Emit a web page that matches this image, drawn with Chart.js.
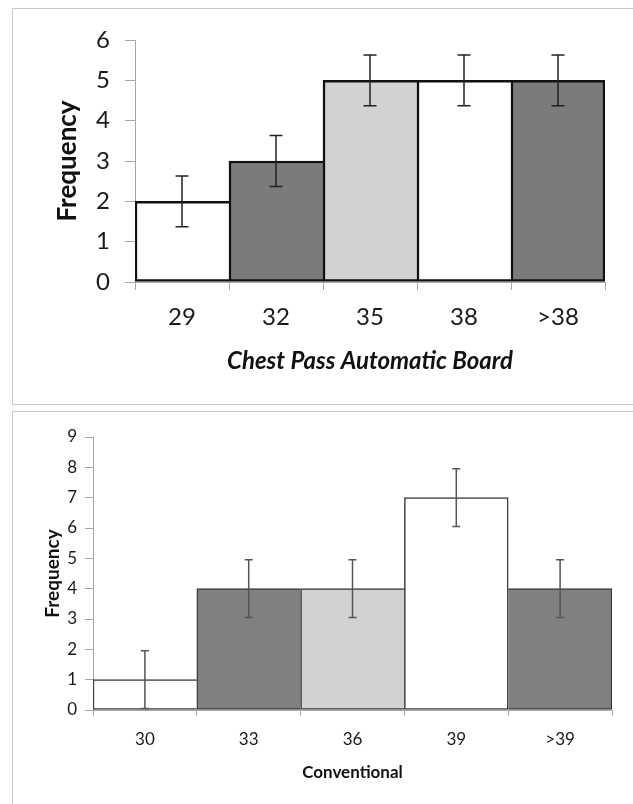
<!DOCTYPE html>
<html>
<head>
<meta charset="utf-8">
<script src="https://cdn.jsdelivr.net/npm/chart.js@4.4.1/dist/chart.umd.min.js"></script>
<style>
  html, body { margin: 0; padding: 0; background: #ffffff; }
  body { width: 633px; height: 804px; position: relative; overflow: hidden; font-family: Lato, sans-serif; }
  .panel { position: absolute; border: 1.5px solid #c9c9c9; background: #fff; box-sizing: border-box; }
  #p1 { left: 12px; top: 8px; width: 640px; height: 397px; }
  #p2 { left: 12px; top: 411px; width: 640px; height: 400px; }
  .wrap { position: absolute; }
  #w1 { left: 12px; top: 8px; width: 621px; height: 397px; }
  #w2 { left: 12px; top: 413px; width: 621px; height: 391px; }
</style>
</head>
<body>
<div class="panel" id="p1"></div>
<div class="panel" id="p2"></div>
<div class="wrap" id="w1"><canvas id="c1"></canvas></div>
<div class="wrap" id="w2"><canvas id="c2"></canvas></div>
<script>
// ---- Data: top chart (Chest Pass Automatic Board) ----
const topCategories = ['29', '32', '35', '38', '>38'];
const topValues = [2, 3, 5, 5, 5];
const topErrors = [0.63, 0.63, 0.63, 0.63, 0.63];
const topYTicks = [0, 1, 2, 3, 4, 5, 6];
const topXTitle = 'Chest Pass Automatic Board';

// ---- Data: bottom chart (Conventional) ----
const botCategories = ['30', '33', '36', '39', '>39'];
const botValues = [1, 4, 4, 7, 4];
const botErrors = [0.95, 0.95, 0.95, 0.95, 0.95];
const botYTicks = [0, 1, 2, 3, 4, 5, 6, 7, 8, 9];
const botXTitle = 'Conventional';

const yTitle = 'Frequency';

const topColors = ['#ffffff', '#7b7b7b', '#d3d1d1', '#ffffff', '#7b7b7b'];
const botColors = ['#ffffff', '#808080', '#d3d1d1', '#ffffff', '#808080'];

const errorBarPlugin = {
  id: 'errorBars',
  afterDatasetsDraw(chart, args, opts) {
    const ctx = chart.ctx;
    const meta = chart.getDatasetMeta(0);
    const ys = chart.scales.y;
    const vals = chart.data.datasets[0].data;
    ctx.save();
    ctx.strokeStyle = opts.color;
    ctx.lineWidth = opts.width;
    meta.data.forEach((bar, i) => {
      const v = vals[i], e = opts.errors[i];
      const x = bar.x;
      const yt = ys.getPixelForValue(v + e);
      const yb = ys.getPixelForValue(v - e);
      const c = opts.cap / 2;
      ctx.beginPath();
      ctx.moveTo(x, yt); ctx.lineTo(x, yb);
      ctx.moveTo(x - c, yt); ctx.lineTo(x + c, yt);
      ctx.moveTo(x - c, yb); ctx.lineTo(x + c, yb);
      ctx.stroke();
    });
    ctx.restore();
  }
};

function makeChart(id, cfg) {
  const n = cfg.categories.length;
  const bw = cfg.borderWidth;
  const vals = cfg.values;
  return new Chart(document.getElementById(id), {
    type: 'bar',
    data: {
      labels: cfg.categories,
      datasets: [{
        data: vals,
        backgroundColor: cfg.colors,
        borderColor: cfg.borderColor,
        borderSkipped: false,
        borderWidth: (c) => {
          const i = c.dataIndex;
          const left = (i === 0 || vals[i - 1] <= vals[i]) ? bw : 0;
          const right = (i === n - 1 || vals[i + 1] < vals[i]) ? bw : 0;
          return { top: bw, left: left, bottom: bw, right: right };
        },
        categoryPercentage: 1.0,
        barPercentage: 1.0
      }]
    },
    options: {
      responsive: true,
      maintainAspectRatio: false,
      animation: false,
      events: [],
      layout: { padding: { left: 0, top: cfg.area.top, right: cfg.W - cfg.area.right, bottom: 0 } },
      plugins: {
        legend: { display: false },
        tooltip: { enabled: false },
        errorBars: { errors: cfg.errors, color: cfg.errColor, width: cfg.errWidth, cap: cfg.cap }
      },
      scales: {
        x: {
          offset: true,
          grid: { display: true, drawOnChartArea: false, offset: true, color: '#a6a6a6', tickLength: cfg.xTickLen, lineWidth: 1 },
          border: { display: true, color: '#a6a6a6', width: 1 },
          ticks: { color: '#1a1a1a', font: { family: 'Lato', size: cfg.tickSize }, padding: cfg.xTickPad, maxRotation: 0 },
          title: { display: true, text: cfg.xTitle, color: '#111', font: { family: 'Lato', size: cfg.xTitleSize, weight: 'bold', style: cfg.xTitleStyle }, padding: { top: 0, bottom: cfg.xTitlePad } },
          afterFit: (s) => { s.height = cfg.H - cfg.area.bottom; }
        },
        y: {
          min: 0,
          max: cfg.yTicks[cfg.yTicks.length - 1],
          afterBuildTicks: (s) => { s.ticks = cfg.yTicks.map(v => ({ value: v })); },
          grid: { display: true, drawOnChartArea: false, color: '#a6a6a6', tickLength: cfg.yTickLen, lineWidth: 1 },
          border: { display: true, color: '#a6a6a6', width: 1 },
          ticks: { color: '#1a1a1a', font: { family: 'Lato', size: cfg.tickSize }, padding: cfg.yTickPad },
          title: { display: true, text: yTitle, color: '#111', font: { family: 'Lato', size: cfg.yTitleSize, weight: 'bold' }, padding: { top: cfg.yTitlePad, bottom: 0 } },
          afterFit: (s) => { s.width = cfg.area.left; }
        }
      }
    },
    plugins: [errorBarPlugin]
  });
}

makeChart('c1', {
  categories: topCategories, values: topValues, errors: topErrors, yTicks: topYTicks, xTitle: topXTitle,
  colors: topColors, borderColor: '#111111', borderWidth: 2.5,
  W: 621, H: 397, area: { left: 123, right: 593, top: 32, bottom: 274 },
  tickSize: 24, xTickLen: 8, xTickPad: 13, yTickLen: 10, yTickPad: 15,
  xTitleSize: 24, xTitleStyle: 'italic', xTitlePad: 29,
  yTitleSize: 26, yTitlePad: 40,
  errColor: '#222222', errWidth: 1.5, cap: 13
});

makeChart('c2', {
  categories: botCategories, values: botValues, errors: botErrors, yTicks: botYTicks, xTitle: botXTitle,
  colors: botColors, borderColor: '#3a3a3a', borderWidth: 1.5,
  W: 621, H: 391, area: { left: 81, right: 600, top: 24, bottom: 297 },
  tickSize: 17, xTickLen: 6, xTickPad: 13, yTickLen: 8, yTickPad: 8,
  xTitleSize: 17, xTitleStyle: 'normal', xTitlePad: 21,
  yTitleSize: 19, yTitlePad: 29,
  errColor: '#555555', errWidth: 1.5, cap: 8
});
</script>
</body>
</html>
